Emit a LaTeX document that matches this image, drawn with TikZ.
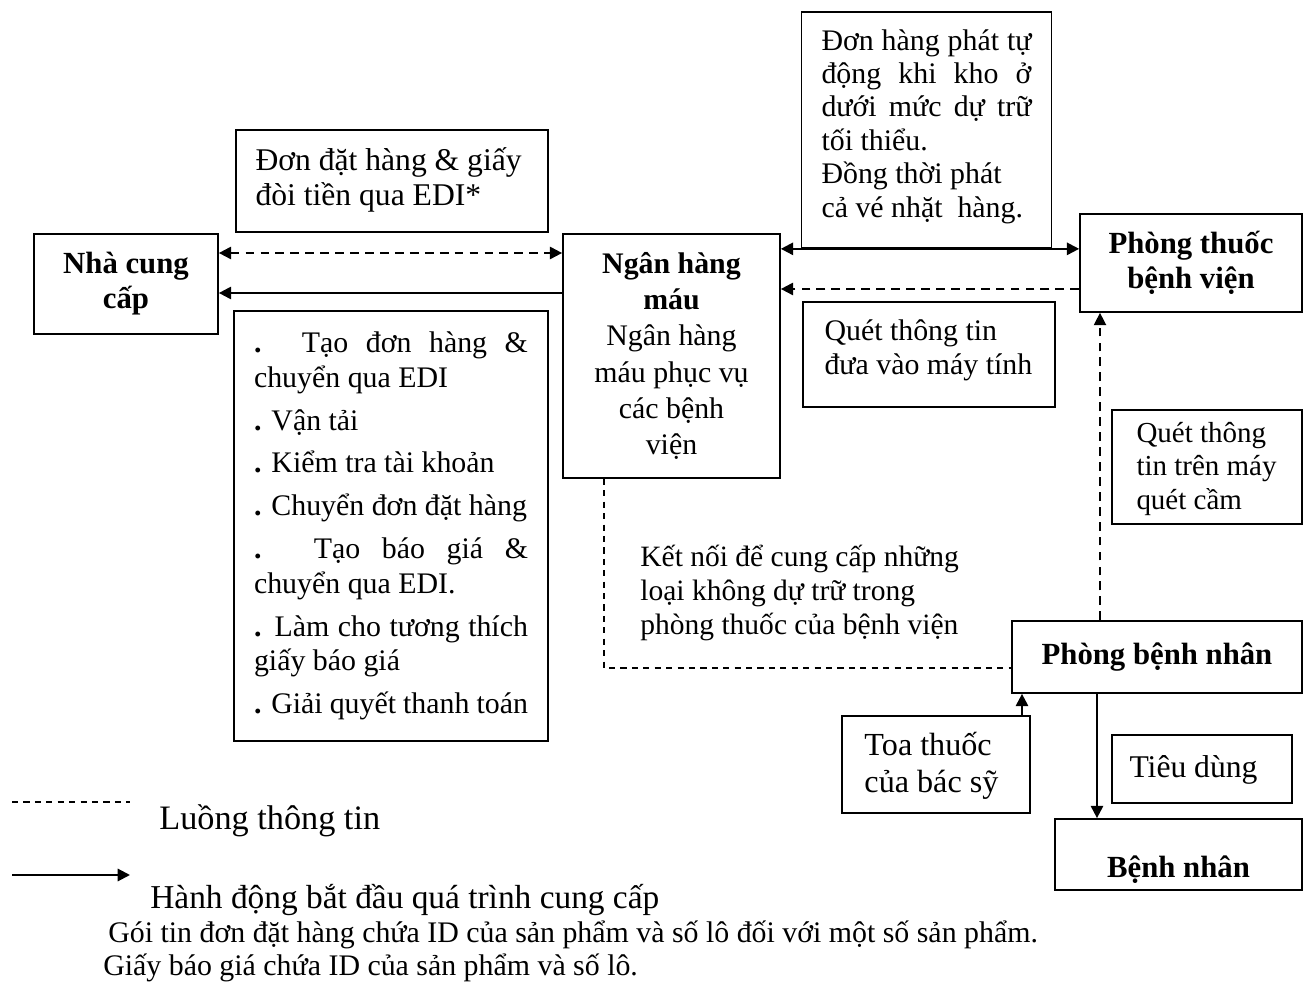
\documentclass[tikz,border=0pt]{standalone}
\usepackage{fontspec}
\setmainfont{Liberation Serif}
\usetikzlibrary{arrows.meta,calc}

\begin{document}
\begin{tikzpicture}[
	x=0.02cm, y=-0.02cm,
	every node/.style={font=\fontsize{17}{19.5}\selectfont, inner sep=0pt},
	box/.style={draw, line width=1pt},
	head/.style={font=\fontsize{17.5}{20}\selectfont\bfseries, align=center},
	boxtxt/.style={anchor=west, align=left},
	flow/.style={line width=1.2pt, -{Triangle[length=7pt,width=7pt]}},
	info/.style={line width=1.1pt, dash pattern=on 5pt off 3.5pt, -{Triangle[length=7pt,width=7pt]}},
	link/.style={line width=0.6pt, dash pattern=on 3.5pt off 3pt},
	line cap=butt
	]
	\useasboundingbox (0,0) rectangle (1306,999);
	
	% Main boxes
	\node[box, head, minimum width=3.68cm, minimum height=2cm] (sup) at (126,284) {Nhà cung\\cấp};
	\node[box, align=center, minimum width=4.34cm, minimum height=4.88cm, font=\fontsize{17}{20.7}\selectfont] (bank) at (671.5,356) {\textbf{Ngân hàng}\\\textbf{máu}\\Ngân hàng\\máu phục vụ\\các bệnh\\viện};
	\node[box, head, minimum width=4.44cm, minimum height=1.96cm] (pharm) at (1191,263) {Phòng thuốc\\bệnh viện};
	\node[box, head, minimum width=5.8cm, minimum height=1.44cm] (ward) at (1157,657) {Phòng bệnh nhân};
	\node[box, head, minimum width=4.94cm, minimum height=1.42cm] (patient) at (1178.5,854.5) {\raisebox{-0.3cm}[\height][\depth]{Bệnh nhân}};
	
	% Justified boxes
	\node[box, align=justify, inner xsep=0.4cm, text width=5.48cm, minimum height=8.6cm, font=\fontsize{17}{19.9}\selectfont\setlength{\parskip}{4.4pt}] (tasks) at (391,526) {\textbf{.} Tạo đơn hàng \&\linebreak chuyển qua EDI\par
		\textbf{.} Vận tải\par
		\textbf{.} Kiểm tra tài khoản\par
		\textbf{.} Chuyển đơn đặt hàng\par
		\textbf{.} Tạo báo giá \&\linebreak chuyển qua EDI.\par
		\textbf{.} Làm cho tương thích\linebreak giấy báo giá\par
		\textbf{.} Giải quyết thanh toán\par\vspace*{-5pt}};
	\node[box, align=justify, inner xsep=0.4cm, text width=4.2cm, minimum height=4.72cm, font=\fontsize{17}{19}\selectfont] (auto) at (926.5,130) {Đơn hàng phát tự\linebreak động khi kho ở\linebreak dưới mức dự trữ\linebreak tối thiểu.\newline Đồng thời phát\newline cả vé nhặt\ \ hàng.\vspace*{4pt}};
	
	% Boxes with left text
	\node[box, minimum width=6.24cm, minimum height=2.04cm] (edi) at (392,181) {};
	\node[box, minimum width=5.04cm, minimum height=2.1cm] (scanpc) at (929,354.5) {};
	\node[box, minimum width=3.8cm, minimum height=2.28cm] (scanhand) at (1207,467) {};
	\node[box, minimum width=3.76cm, minimum height=1.94cm] (presc) at (936,764.5) {};
	\node[box, minimum width=3.6cm, minimum height=1.36cm] (use) at (1202,769) {};
	\node[boxtxt, font=\fontsize{18}{19.8}\selectfont] (editxt) at ($(edi.west)+(20,-1)$) {Đơn đặt hàng \& giấy\\đòi tiền qua EDI*};
	\node[boxtxt, font=\fontsize{17}{19.3}\selectfont] (scanpctxt) at ($(scanpc.west)+(22,-4)$) {Quét thông tin\\đưa vào máy tính};
	\node[boxtxt, font=\fontsize{16.5}{18.8}\selectfont] (scanhandtxt) at ($(scanhand.west)+(25,2)$) {Quét thông\\tin trên máy\\quét cầm};
	\node[boxtxt, font=\fontsize{18.3}{21}\selectfont] (presctxt) at ($(presc.west)+(23,1.5)$) {Toa thuốc\\của bác sỹ};
	\node[boxtxt, font=\fontsize{18}{20}\selectfont] (usetxt) at ($(use.west)+(18,1)$) {Tiêu dùng};
	
	% Free text
	\node[anchor=west, align=left, font=\fontsize{16.8}{19.3}\selectfont] (linktxt) at (640,593) {Kết nối để cung cấp những\\loại không dự trữ trong\\phòng thuốc của bệnh viện};
	
	% Connectors
	\coordinate (s1) at ($(sup.east)+(0,-31)$);
	\coordinate (s2) at ($(sup.east)+(0,9)$);
	\coordinate (p1) at ($(pharm.west)+(0,26)$);
	\coordinate (w1) at ($(ward.north)+(-57,0)$);
	\coordinate (w2) at ($(ward.west)+(0,11)$);
	\coordinate (w3) at ($(ward.south)+(-60,0)$);
	\coordinate (b1) at ($(bank.south)+(-67.5,0)$);
	\coordinate (t1) at ($(presc.north)+(86,0)$);
	
	\draw[info, {Triangle[length=7pt,width=7pt]}-{Triangle[length=7pt,width=7pt]}] (s1) -- (s1 -| bank.west);
	\draw[flow] (s2 -| bank.west) -- (s2);
	\draw[flow, {Triangle[length=7pt,width=7pt]}-{Triangle[length=7pt,width=7pt]}] (bank.east |- auto.south) -- (pharm.west |- auto.south);
	\draw[info] (p1) -- (p1 -| bank.east);
	\draw[info, line width=0.8pt] (w1) -- (w1 |- pharm.south);
	\draw[link] (b1) |- (w2);
	\draw[flow] (t1) -- (t1 |- ward.south);
	\draw[flow] (w3) -- (w3 |- patient.north);
	
	% Legend
	\coordinate (la) at (12,802);
	\coordinate (lb) at (130,802);
	\coordinate (lc) at (12,875);
	\coordinate (ld) at (130,875);
	\draw[link] (la) -- (lb);
	\draw[flow] (lc) -- (ld);
	\node[anchor=west, font=\fontsize{19.5}{22}\selectfont] (infolbl) at (159,821) {Luồng thông tin};
	\node[anchor=west, font=\fontsize{19}{22}\selectfont] (actlbl) at (150,900) {Hành động bắt đầu quá trình cung cấp};
	\node[anchor=west] (note1) at (108,935) {Gói tin đơn đặt hàng chứa ID của sản phẩm và số lô đối với một số sản phẩm.};
	\node[anchor=west] (note2) at (103,968) {Giấy báo giá chứa ID của sản phẩm và số lô.};
	
\end{tikzpicture}
\end{document}
